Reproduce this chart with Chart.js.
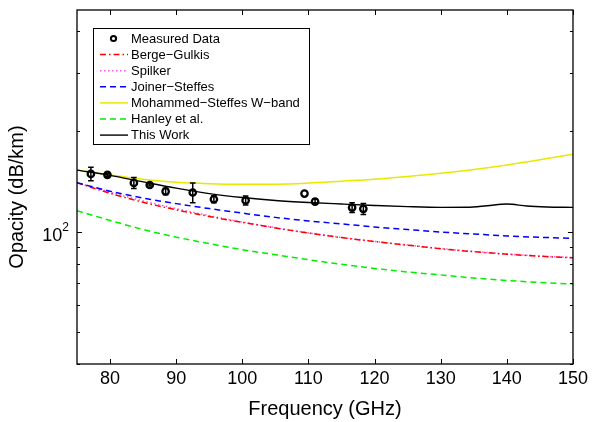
<!DOCTYPE html>
<html>
<head>
<meta charset="utf-8">
<script src="https://cdn.jsdelivr.net/npm/chart.js@4/dist/chart.umd.min.js"></script>
<style>
html,body{margin:0;padding:0;background:#fff;}
#c{display:block;}
</style>
</head>
<body>
<canvas id="c" width="592" height="422"></canvas>
<script>
// ---- data ----
const measFreq = [77.1, 79.6, 83.6, 86.0, 88.4, 92.5, 95.7, 100.5, 109.4, 111.0, 116.6, 118.3];
const measVal  = [149, 148, 140, 138, 132, 131, 125, 124, 130, 123, 118, 117];
const measErr  = [7, 1.5, 5.3, 1, 3, 9, 3, 3.8, 0, 2, 4, 4.4];

const modelFreq = [75, 80, 85, 90, 95, 100, 105, 110, 115, 120, 125, 130, 135, 140, 145, 150];
const bergeGulkis = [140.1, 130.3, 122.4, 116.2, 111.0, 106.5, 102.5, 99.0, 95.9, 93.3, 91.0, 88.8, 87.0, 85.5, 84.3, 83.4];
const spilker     = [140.5, 131.3, 123.6, 117.2, 111.6, 106.8, 102.7, 99.1, 96.0, 93.4, 91.1, 88.9, 87.1, 85.6, 84.4, 83.5];
const joinerSteffes = [140.1, 132.2, 126.1, 121.3, 117.2, 113.6, 110.3, 107.6, 105.4, 103.2, 101.4, 99.65, 98.3, 97.0, 96.1, 95.4];
const mohammedSteffes = [153, 148, 143.7, 140.7, 139.3, 138.8, 138.8, 139.8, 141.7, 143.7, 146.4, 149.6, 153.6, 158.5, 164.3, 170.7];
const hanley = [115.5, 108.0, 101.4, 96.2, 92.0, 88.2, 85.2, 82.3, 79.7, 77.5, 75.6, 74.1, 72.5, 71.3, 70.3, 69.6];

const thisWorkFreq = [75, 80, 85, 90, 95, 100, 105, 110, 115, 120, 125, 130, 134, 137, 140, 143, 146, 150];
const thisWork     = [153, 147.5, 141, 135, 130, 126.5, 124, 122.3, 121, 119.8, 118.8, 118.2, 118.3, 119.5, 121, 119.3, 118.5, 118.2];

const xTicks = [80, 90, 100, 110, 120, 130, 140, 150];
const yTicks = [40, 50, 60, 70, 80, 90, 100, 200, 300, 400];
const yMajor = [100];
const xMin = 75, xMax = 150, yMin = 40, yMax = 463;

const FONT = '"Liberation Sans", Arial, Helvetica, sans-serif';

function pts(xs, ys){ return xs.map((x,i)=>({x:x, y:ys[i]})); }

const errorBars = {
  id:'errorBars',
  afterDatasetsDraw(chart){
    const ctx = chart.ctx, xs = chart.scales.x, ys = chart.scales.y;
    ctx.save();
    ctx.strokeStyle = '#000'; ctx.lineWidth = 1.5;
    measFreq.forEach((f,i)=>{
      const e = measErr[i]; if(!e) return;
      const px = xs.getPixelForValue(f);
      const p1 = ys.getPixelForValue(measVal[i]-e), p2 = ys.getPixelForValue(measVal[i]+e);
      ctx.beginPath();
      ctx.moveTo(px,p1); ctx.lineTo(px,p2);
      ctx.moveTo(px-2.8,p1); ctx.lineTo(px+2.8,p1);
      ctx.moveTo(px-2.8,p2); ctx.lineTo(px+2.8,p2);
      ctx.stroke();
    });
    ctx.restore();
  }
};

const frame = {
  id:'frame',
  afterDraw(chart){
    const ctx = chart.ctx, a = chart.chartArea, xs = chart.scales.x, ys = chart.scales.y;
    ctx.save();
    ctx.strokeStyle = '#000'; ctx.lineWidth = 1.3;
    ctx.strokeRect(a.left, a.top, a.right-a.left, a.bottom-a.top);
    ctx.lineWidth = 1;
    ctx.beginPath();
    xTicks.forEach(v=>{
      const p = Math.round(xs.getPixelForValue(v))+0.5;
      ctx.moveTo(p,a.bottom); ctx.lineTo(p,a.bottom-5);
      ctx.moveTo(p,a.top); ctx.lineTo(p,a.top+5);
    });
    yTicks.forEach(v=>{
      const p = Math.round(ys.getPixelForValue(v))+0.5;
      const len = yMajor.includes(v) ? 5 : 3;
      ctx.moveTo(a.left,p); ctx.lineTo(a.left+len,p);
      ctx.moveTo(a.right,p); ctx.lineTo(a.right-len,p);
    });
    ctx.stroke();
    // y major label 10^2
    ctx.fillStyle = '#000';
    yMajor.forEach(v=>{
      const p = ys.getPixelForValue(v);
      const exp = String(Math.round(Math.log10(v)));
      ctx.font = '12px ' + FONT;
      const ew = ctx.measureText(exp).width;
      ctx.font = '18px ' + FONT;
      ctx.textAlign = 'right'; ctx.textBaseline = 'alphabetic';
      ctx.fillText('10', a.left - 8 - ew, p + 9);
      ctx.font = '12px ' + FONT;
      ctx.textAlign = 'left';
      ctx.fillText(exp, a.left - 8 - ew, p - 1);
    });
    // axis titles
    ctx.font = '20px ' + FONT;
    ctx.textAlign = 'center'; ctx.textBaseline = 'middle';
    ctx.fillText('Frequency (GHz)', (a.left+a.right)/2, 409);
    ctx.save();
    ctx.translate(17, 197);
    ctx.rotate(-Math.PI/2);
    ctx.fillText('Opacity (dB/km)', 0, 0);
    ctx.restore();
    // legend
    const bx=93, by=28, bw=216, bh=116;
    ctx.fillStyle='#fff'; ctx.fillRect(bx,by,bw,bh);
    ctx.strokeStyle='#000'; ctx.lineWidth=1;
    ctx.strokeRect(bx+0.5,by+0.5,bw,bh);
    ctx.font = '13px ' + FONT; ctx.textAlign='left'; ctx.textBaseline='middle';
    chart.data.datasets.forEach((ds,i)=>{
      const yy = by + 10.5 + i*16.1;
      if(ds.showLine === false){
        ctx.beginPath(); ctx.lineWidth=2; ctx.strokeStyle='#000';
        ctx.arc(113.5, yy, 2.6, 0, Math.PI*2); ctx.stroke();
      } else {
        ctx.beginPath(); ctx.lineWidth = ds.borderWidth; ctx.strokeStyle = ds.borderColor;
        ctx.setLineDash(ds.borderDash || []);
        ctx.moveTo(100, yy); ctx.lineTo(128, yy); ctx.stroke();
        ctx.setLineDash([]);
      }
      ctx.fillStyle='#000';
      ctx.fillText(ds.label, 131, yy+0.5);
    });
    ctx.restore();
  }
};

const lineDS = (label, xs, ys, color, dash, order, w) => ({
  label, data: pts(xs, ys), borderColor: color, backgroundColor: color,
  borderWidth: w || 1.5, borderDash: dash, pointRadius: 0, fill: false,
  cubicInterpolationMode: 'monotone', order
});

new Chart(document.getElementById('c'), {
  type: 'line',
  data: {
    datasets: [
      { label:'Measured Data', data: pts(measFreq, measVal), showLine:false,
        pointRadius:3.2, pointBorderWidth:2.3, pointBorderColor:'#000', pointBackgroundColor:'rgba(255,255,255,0)',
        borderColor:'#000', order:0 },
      lineDS('Berge\u2212Gulkis', modelFreq, bergeGulkis, '#ff0000', [6,3,1.5,3], 4),
      lineDS('Spilker', modelFreq, spilker, '#ff55dd', [1.5,2.5], 5),
      lineDS('Joiner\u2212Steffes', modelFreq, joinerSteffes, '#0000ff', [6,4], 3),
      lineDS('Mohammed\u2212Steffes W\u2212band', modelFreq, mohammedSteffes, '#e8e800', [], 2),
      lineDS('Hanley et al.', modelFreq, hanley, '#00ee00', [6,4], 6),
      lineDS('This Work', thisWorkFreq, thisWork, '#000000', [], 1, 1.4)
    ]
  },
  options: {
    responsive:false, animation:false,
    layout:{ padding:{ left:0, right:18, top:10, bottom:0 } },
    plugins:{ legend:{display:false}, tooltip:{enabled:false} },
    scales:{
      x:{ type:'linear', min:xMin, max:xMax,
        afterBuildTicks: s => { s.ticks = xTicks.map(v=>({value:v})); },
        afterFit: s => { s.height = 58; },
        grid:{ display:false, drawTicks:false },
        border:{ display:false },
        ticks:{ autoSkip:false, maxRotation:0, padding:4, color:'#000',
          font:{ family:FONT, size:18 }, callback: v => String(v) } },
      y:{ type:'logarithmic', min:yMin, max:yMax,
        afterBuildTicks: s => { s.ticks = yTicks.map(v=>({value:v})); },
        afterFit: s => { s.width = 77; },
        grid:{ display:false, drawTicks:false },
        border:{ display:false },
        ticks:{ display:false } }
    }
  },
  plugins:[errorBars, frame]
});
</script>
</body>
</html>
